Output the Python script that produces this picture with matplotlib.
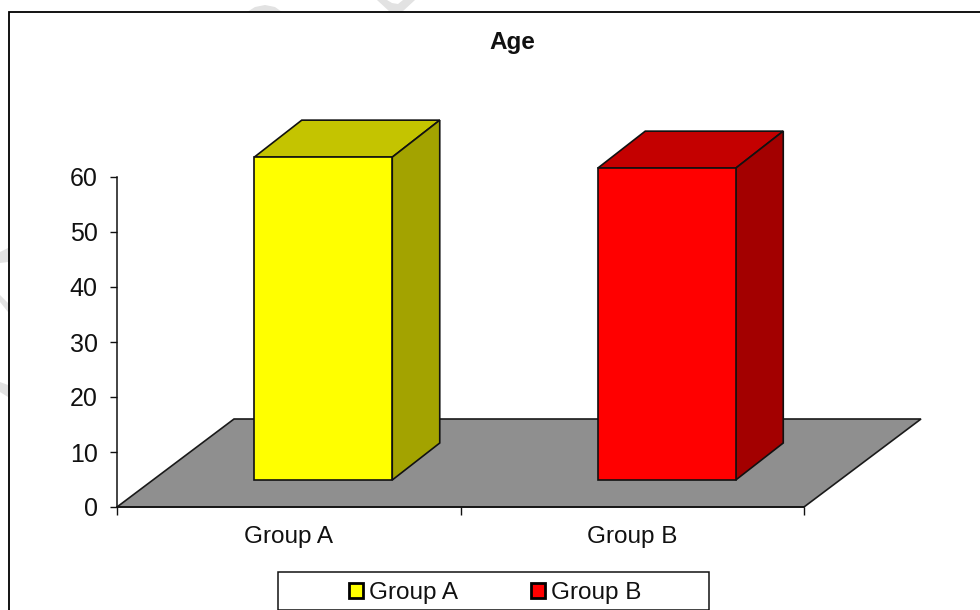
import matplotlib
matplotlib.use("Agg")
import matplotlib.pyplot as plt
from matplotlib.patches import Polygon, Rectangle

plt.rcParams["font.family"] = ["Liberation Sans", "DejaVu Sans"]

W, H = 980, 610

categories = ["Group A", "Group B"]
values = [58.7, 56.7]
front_colors = ["#ffff00", "#ff0000"]
top_colors = ["#c4c400", "#c40000"]
side_colors = ["#a3a300", "#a30000"]
y_ticks = [0, 10, 20, 30, 40, 50, 60]


def px_rect(left, top, right, bottom):
    return [left / W, 1 - bottom / H, (right - left) / W, (bottom - top) / H]


def px_points(points):
    return [(x / W, 1 - y / H) for x, y in points]


fig = plt.figure(figsize=(W / 100, H / 100), dpi=100, facecolor="white")

# bits of the page watermark showing outside the chart frame
watermark = [
    [(0, 252), (8, 248), (8, 262), (0, 263)],
    [(0, 295), (8, 303), (8, 312), (0, 302)],
    [(0, 382), (8, 385), (8, 397), (0, 392)],
    [(247, 12), (255, 7), (265, 5), (275, 7), (282, 12)],
    [(377, 0), (390, 12), (402, 12), (415, 0), (403, 0), (398, 4), (392, 3), (387, 0)],
]
for shape in watermark:
    fig.patches.append(Polygon(px_points(shape), transform=fig.transFigure,
                               facecolor="#e2e2e2", edgecolor="none"))

# outer chart frame, runs off the right and bottom of the image
fig.patches.append(Rectangle((8.5 / W, -0.02), 1.1, 1 - 12 / H + 0.02, transform=fig.transFigure,
                             fill=False, edgecolor="black", linewidth=1.3))

ax = fig.add_axes(px_rect(117, 177, 804, 507))
ax.patch.set_visible(False)
ax.set_xlim(-0.5, 1.5)
ax.set_ylim(0, 60)

# 3d depth in data units
per_x = 687 / 2
per_y = 330 / 60
floor_dx, floor_dy = 117 / per_x, 88 / per_y
lift_dx, lift_dy = 34.5 / per_x, 27 / per_y
bar_dx, bar_dy = 47.5 / per_x, 37 / per_y
bar_w = 138 / per_x

# floor
ax.add_patch(Polygon([(-0.5, 0), (1.5, 0), (1.5 + floor_dx, floor_dy), (-0.5 + floor_dx, floor_dy)],
                     facecolor="#8f8f8f", edgecolor="#1a1a1a", linewidth=1.2, clip_on=False, zorder=1))

for i, v in enumerate(values):
    x0 = i - bar_w / 2 + lift_dx
    x1 = i + bar_w / 2 + lift_dx
    y0 = lift_dy
    y1 = lift_dy + v
    ax.bar(i + lift_dx, v, bar_w, bottom=y0, color=front_colors[i], edgecolor="#111111",
           linewidth=1.2, clip_on=False, zorder=3)
    ax.add_patch(Polygon([(x0, y1), (x1, y1), (x1 + bar_dx, y1 + bar_dy), (x0 + bar_dx, y1 + bar_dy)],
                         facecolor=top_colors[i], edgecolor="#111111", linewidth=1.2,
                         clip_on=False, zorder=2))
    ax.add_patch(Polygon([(x1, y0), (x1, y1), (x1 + bar_dx, y1 + bar_dy), (x1 + bar_dx, y0 + bar_dy)],
                         facecolor=side_colors[i], edgecolor="#111111", linewidth=1.2,
                         clip_on=False, zorder=2))

for s in ["top", "right"]:
    ax.spines[s].set_visible(False)
for s in ["left", "bottom"]:
    ax.spines[s].set_linewidth(1.1)
    ax.spines[s].set_color("#111111")

ax.set_yticks(y_ticks)
ax.tick_params(axis="y", labelsize=18, length=5, width=1, pad=9, color="#111111", labelcolor="#111111")
# category ticks sit between the groups, labels under the group centres
ax.set_xticks([-0.5, 0.5, 1.5])
ax.set_xticklabels([])
ax.set_xticks([0, 1], labels=categories, minor=True)
ax.tick_params(axis="x", which="major", length=6, width=1, color="#111111")
ax.tick_params(axis="x", which="minor", length=0, labelsize=17.5, pad=13.5, labelcolor="#111111")

fig.text(512.5 / W, 1 - 43 / H, "Age", ha="center", va="center", fontsize=17.5, fontweight="bold",
         color="#111111")

# legend box, wider than its entries
fig.patches.append(Rectangle((277.5 / W, 1 - 609.5 / H), 431 / W, 37.5 / H, transform=fig.transFigure,
                             facecolor="white", edgecolor="#111111", linewidth=1.1))
handles = [Rectangle((0, 0), 1, 1, facecolor=c, edgecolor="black", linewidth=2) for c in front_colors]
leg = fig.legend(handles, categories, loc="center", bbox_to_anchor=(495.5 / W, 1 - 593 / H),
                 ncol=2, fontsize=17.5, frameon=False, labelcolor="#111111",
                 handlelength=0.55, handleheight=0.55, handletextpad=0.28, columnspacing=3.0,
                 borderpad=0, borderaxespad=0)

fig.savefig("out.png", dpi=100)
